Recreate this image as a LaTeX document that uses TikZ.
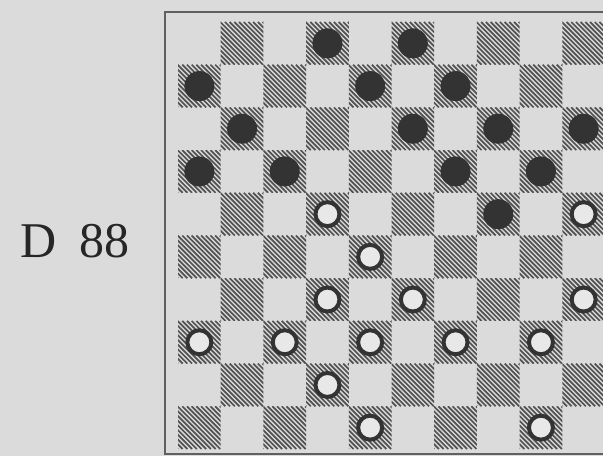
\documentclass[tikz,border=0pt]{standalone}
\usepackage{fontspec}
\setmainfont{Liberation Serif}
\usetikzlibrary{calc}
\definecolor{carta}{gray}{0.86}
\definecolor{tratto}{gray}{0.32}
\definecolor{pedina}{gray}{0.20}

\begin{document}
\begin{tikzpicture}[x=1pt,y=1pt,
  nera/.style={fill=pedina},
  bianca/.style={draw=pedina, fill=carta!65!white, line width=4pt}]
\useasboundingbox (0,0) rectangle (603,456);
\fill[carta] (0,0) rectangle (603,456);
\clip (0,0) rectangle (603,456);
\node[font=\fontsize{50}{50}\selectfont, text=black!85] (diagramma) at (75,215) {D\hspace{22pt}88};
% cornice della damiera
\draw[gray!75!black, line width=1.6pt] (165,2) rectangle (640,444);
\begin{scope}[shift={(178,434)}, x=42.7pt, y=-42.7pt]
% caselle scure tratteggiate
\foreach \r in {1,...,10}{
  \foreach \c in {1,...,10}{
    \pgfmathtruncatemacro{\pari}{mod(\r+\c,2)}
    \ifnum\pari=1
      \begin{scope}
        \clip (\c-1,\r-1) rectangle (\c,\r);
        \foreach \t in {-1.0,-0.89,...,1.05}{
          \draw[tratto, line width=1.7pt] (\c-1+\t,\r-1) -- (\c+\t,\r);
        }
      \end{scope}
    \fi
  }
}
% pedine nere
\foreach \r/\c in {1/4,1/6,2/1,2/5,2/7,3/2,3/6,3/8,3/10,4/1,4/3,4/7,4/9,5/8}{
  \fill[nera] (\c-0.5,\r-0.5) circle (15pt);
}
% pedine bianche
\foreach \r/\c in {5/4,5/10,6/5,7/4,7/6,7/10,8/1,8/3,8/5,8/7,8/9,9/4,10/5,10/9}{
  \draw[bianca] (\c-0.5,\r-0.5) circle (12pt);
}
\end{scope}
\end{tikzpicture}
\end{document}
